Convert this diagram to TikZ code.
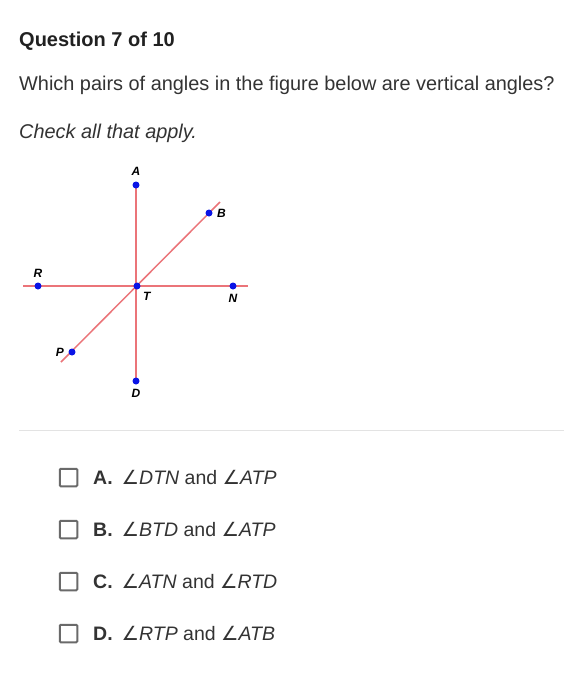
\documentclass[tikz,border=0pt]{standalone}
\usepackage{fontspec}
\setmainfont{Liberation Sans}
\newfontfamily\symfont{DejaVu Sans}
\usetikzlibrary{positioning}
\definecolor{linered}{HTML}{EB7479}
\definecolor{ptblue}{HTML}{0A14E6}
\definecolor{txtgray}{HTML}{333333}
\definecolor{boxgray}{HTML}{6A6A6A}
\definecolor{rulegray}{HTML}{E3E3E3}
\newcommand{\ang}{{\symfont\char"2220}}
\begin{document}
\begin{tikzpicture}[x=1pt, y=-1pt,
    dot/.style={circle, fill=ptblue, inner sep=0pt, minimum size=7pt},
    lbl/.style={font=\bfseries\itshape\fontsize{12}{12}\selectfont},
    seg/.style={draw=linered, line width=1.5pt},
    txt/.style={anchor=base west, inner sep=0pt, text=txtgray},
    cbox/.style={draw=boxgray, line width=2pt, rounded corners=1pt, minimum size=17.5pt, inner sep=0pt}]
    \useasboundingbox[fill=white] (0,0) rectangle (564,686);

    % heading and question
    \node[txt, text=black!87, font=\bfseries\fontsize{20}{24}\selectfont] (title) at (19,46) {Question 7 of 10};
    \node[txt, font=\fontsize{19.9}{24}\selectfont] (question) at (19,90) {Which pairs of angles in the figure below are vertical angles?};
    \node[txt, font=\itshape\fontsize{19.9}{24}\selectfont] (hint) at (19,138) {Check all that apply.};

    % figure
    \coordinate (lineL) at (23,286);
    \coordinate (lineR) at (248,286);
    \coordinate (diagU) at (220,202);
    \coordinate (diagL) at (61,362);
    \foreach \n/\x/\y in {A/136/185, B/209/213, R/38/286, T/137/286, N/233/286, P/72/352, D/136/381}
        \coordinate (\n) at (\x,\y);

    \draw[seg] (A) -- (D);
    \draw[seg] (lineL) -- (lineR);
    \draw[seg] (diagL) -- (diagU);

    \foreach \n in {A,B,R,T,N,P,D}
        \node[dot] (dot\n) at (\n) {};

    \node[lbl, above=2pt of dotA] (labA) {A};
    \node[lbl, right=1pt of dotB] (labB) {B};
    \node[lbl, above=1pt of dotR] (labR) {R};
    \node[lbl, below right=0pt and 0pt of dotT] (labT) {T};
    \node[lbl, below=1pt of dotN] (labN) {N};
    \node[lbl, left=1pt of dotP] (labP) {P};
    \node[lbl, below=1pt of dotD] (labD) {D};

    % answer choices
    \draw[rulegray, line width=0.8pt] (19,430) -- (564,430);
    \foreach \k/\y/\a/\b in {A/484/DTN/ATP, B/536/BTD/ATP, C/588/ATN/RTD, D/640/RTP/ATB}
    {
        \node[cbox] (box\k) at (68.5,\y-6.5) {};
        \node[txt, font=\fontsize{19.5}{23}\selectfont] (opt\k) at (93,\y)
            {\textbf{\k.}\hspace{9pt}\ang\textit{\a} and \ang\textit{\b}};
    }
\end{tikzpicture}
\end{document}
